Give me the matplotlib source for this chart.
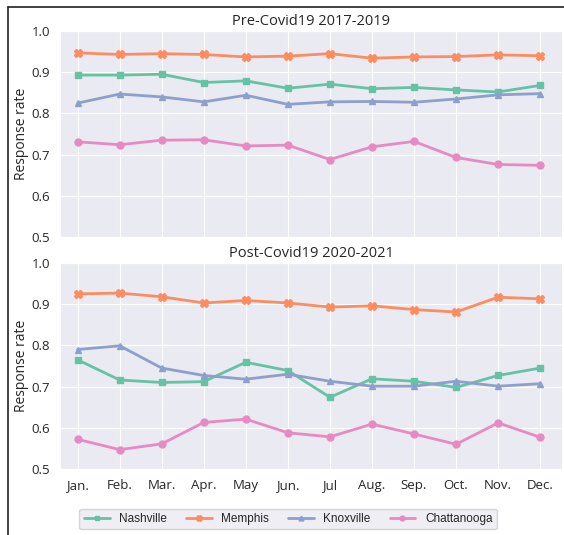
import numpy as np
import matplotlib
matplotlib.use('Agg')
import matplotlib.pyplot as plt
import seaborn as sns
from matplotlib.lines import Line2D

months = ['Jan.', 'Feb.', 'Mar.', 'Apr.', 'May', 'Jun.', 'Jul', 'Aug.', 'Sep.', 'Oct.', 'Nov.', 'Dec.']
cities = ['Nashville', 'Memphis', 'Knoxville', 'Chattanooga']

# pre-covid 2017-2019
pre_nashville = [0.893, 0.893, 0.895, 0.875, 0.879, 0.861, 0.871, 0.860, 0.863, 0.857, 0.852, 0.868]
pre_memphis = [0.947, 0.943, 0.945, 0.943, 0.937, 0.939, 0.945, 0.934, 0.937, 0.938, 0.942, 0.940]
pre_knoxville = [0.825, 0.847, 0.840, 0.828, 0.844, 0.822, 0.828, 0.829, 0.827, 0.835, 0.845, 0.848]
pre_chattanooga = [0.731, 0.724, 0.735, 0.736, 0.721, 0.723, 0.688, 0.719, 0.732, 0.693, 0.676, 0.674]

# post-covid 2020-2021
post_nashville = [0.765, 0.716, 0.710, 0.712, 0.759, 0.739, 0.674, 0.719, 0.713, 0.698, 0.727, 0.745]
post_memphis = [0.925, 0.927, 0.918, 0.903, 0.909, 0.903, 0.893, 0.896, 0.887, 0.881, 0.917, 0.913]
post_knoxville = [0.790, 0.799, 0.745, 0.727, 0.718, 0.730, 0.713, 0.701, 0.701, 0.713, 0.701, 0.707]
post_chattanooga = [0.572, 0.547, 0.561, 0.613, 0.621, 0.588, 0.578, 0.609, 0.585, 0.560, 0.612, 0.577]

sns.set_style('darkgrid')
plt.rcParams['font.family'] = ['Open Sans', 'DejaVu Sans']

colors = sns.color_palette('Set2', 4)
markers = ['s', 'X', '^', 'o']
msizes = [5, 5.5, 5, 5]

fig = plt.figure(figsize=(5.64, 5.35), dpi=100)
W, H = 564, 535
ax1 = fig.add_axes([60 / W, 1 - 237 / H, 502 / W, 206 / H])
ax2 = fig.add_axes([60 / W, 1 - 469 / H, 502 / W, 206 / H])

x = np.arange(len(months))
panels = [
    (ax1, 'Pre-Covid19 2017-2019', [pre_nashville, pre_memphis, pre_knoxville, pre_chattanooga]),
    (ax2, 'Post-Covid19 2020-2021', [post_nashville, post_memphis, post_knoxville, post_chattanooga]),
]
for ax, title, series in panels:
    for vals, name, c, m, ms in zip(series, cities, colors, markers, msizes):
        ax.plot(x, vals, color=c, marker=m, markersize=ms, linewidth=2.0, label=name)
    ax.set_ylim(0.5, 1.0)
    ax.set_xlim(-0.42, 11.52)
    ax.set_yticks([0.5, 0.6, 0.7, 0.8, 0.9, 1.0])
    ax.set_xticks(x)
    ax.set_title(title, fontsize=10.5, pad=4)
    ax.set_ylabel('Response rate', fontsize=10, labelpad=2)
    ax.tick_params(labelsize=9.5)

ax1.set_xticklabels([])
ax2.set_xticklabels(months)

handles, labels = ax2.get_legend_handles_labels()
fig.legend(handles, labels, loc='center', bbox_to_anchor=(288 / W, 1 - 519 / H), ncol=4,
           frameon=True, prop={'family': 'Liberation Sans', 'size': 8.5},
           handlelength=2.2, columnspacing=1.6, markerscale=0.7, borderpad=0.35)

# frame of the screenshot
fig.add_artist(Line2D([8 / W, 8 / W], [0, 1 - 7 / H], transform=fig.transFigure, color='#333333', lw=1.3))
fig.add_artist(Line2D([8 / W, 1], [1 - 7 / H, 1 - 7 / H], transform=fig.transFigure, color='#333333', lw=1.3))

fig.savefig('out.png', dpi=100)
